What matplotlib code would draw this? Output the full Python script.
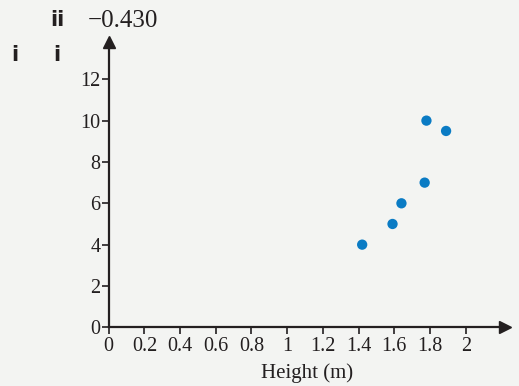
import matplotlib
matplotlib.use("Agg")
import matplotlib.pyplot as plt

# Height (m) against value
heights = [1.42, 1.59, 1.64, 1.77, 1.78, 1.89]
values = [4, 5, 6, 7, 10, 9.5]
x_ticks = [0, 0.2, 0.4, 0.6, 0.8, 1, 1.2, 1.4, 1.6, 1.8, 2]
x_tick_labels = ["0", "0.2", "0.4", "0.6", "0.8", "1", "1.2", "1.4", "1.6", "1.8", "2"]
y_ticks = [0, 2, 4, 6, 8, 10, 12]
x_label = "Height (m)"
answer = "\u22120.430"

bg = "#f3f4f2"
ink = "#231f20"
dot = "#0a7bc4"
serif = ["Liberation Serif", "DejaVu Serif"]

fig = plt.figure(figsize=(5.19, 3.86), dpi=100, facecolor=bg)
ax = fig.add_axes([0.2094, 0.152, 0.7636, 0.739], facecolor=bg)

ax.scatter(heights, values, s=55, color=dot, edgecolors="none", zorder=3)

ax.set_xlim(0, 2.22)
ax.set_ylim(0, 13.8)
for side in ("top", "right"):
    ax.spines[side].set_visible(False)
for side in ("left", "bottom"):
    ax.spines[side].set_color(ink)
    ax.spines[side].set_linewidth(1.6)

# arrow heads at the ends of both axes
ax.plot(1, 0, marker=">", markersize=9, color=ink, transform=ax.transAxes, clip_on=False)
ax.plot(0, 1, marker="^", markersize=9, color=ink, transform=ax.transAxes, clip_on=False)

ax.set_xticks(x_ticks)
ax.set_xticklabels(x_tick_labels, fontfamily=serif, fontsize=14.5, color=ink)
ax.set_yticks(y_ticks)
ax.set_yticklabels([str(v) for v in y_ticks], fontfamily=serif, fontsize=14.5, color=ink)
ax.tick_params(axis="x", direction="out", length=5, width=1.2, color=ink, pad=2)
ax.tick_params(axis="y", direction="out", length=5, width=1.2, color=ink, pad=1)
ax.set_xlabel(x_label, fontfamily=serif, fontsize=15, color=ink, labelpad=5)

# question labels
label_font = dict(fontfamily="DejaVu Sans", fontweight="bold", fontsize=15, color=ink,
                  ha="center", va="center")
fig.text(57 / 519, 1 - 20 / 386, "ii", **label_font)
fig.text(88 / 519, 1 - 21 / 386, answer, fontfamily=serif, fontsize=18, color=ink,
         ha="left", va="center")
fig.text(15 / 519, 1 - 55 / 386, "i", **label_font)
fig.text(57 / 519, 1 - 55 / 386, "i", **label_font)

fig.savefig("out.png", dpi=100, facecolor=bg)
